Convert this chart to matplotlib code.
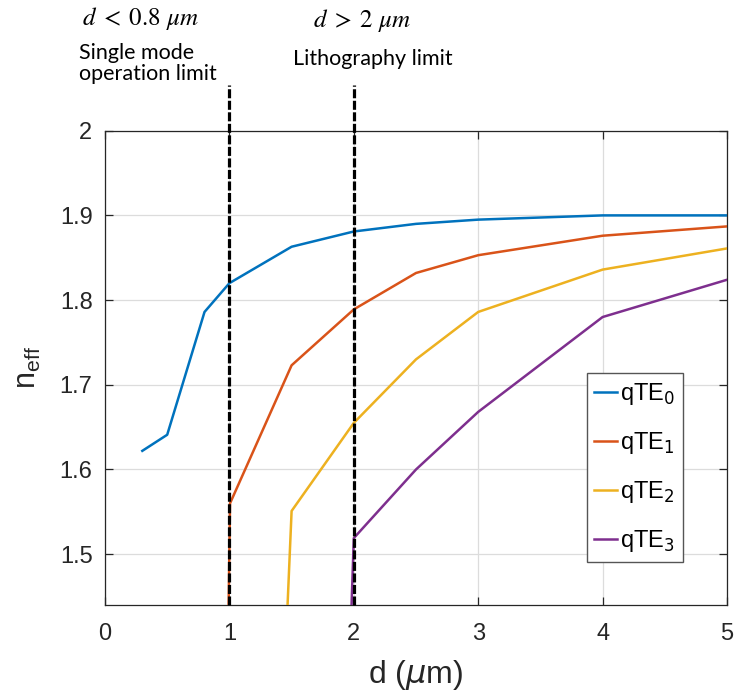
import matplotlib
matplotlib.use("Agg")
import matplotlib.pyplot as plt

plt.rcParams['font.family'] = ['Liberation Sans', 'DejaVu Sans']
plt.rcParams['lines.scale_dashes'] = False

# effective index of the quasi-TE modes vs. waveguide width d (um)
d_te0 = [0.3, 0.5, 0.8, 1.0, 1.5, 2.0, 2.5, 3.0, 4.0, 5.0]
n_te0 = [1.622, 1.641, 1.786, 1.820, 1.863, 1.881, 1.890, 1.895, 1.900, 1.900]

d_te1 = [0.99, 1.005, 1.5, 2.0, 2.5, 3.0, 4.0, 5.0]
n_te1 = [1.40, 1.560, 1.723, 1.789, 1.832, 1.853, 1.876, 1.887]

d_te2 = [1.45, 1.5, 2.0, 2.5, 3.0, 4.0, 5.0]
n_te2 = [1.38, 1.551, 1.655, 1.730, 1.786, 1.836, 1.861]

d_te3 = [1.97, 2.0, 2.5, 3.0, 4.0, 5.0]
n_te3 = [1.387, 1.519, 1.600, 1.668, 1.780, 1.824]

limits = [1.0, 2.0]
labels = ['qTE$_0$', 'qTE$_1$', 'qTE$_2$', 'qTE$_3$']
colors = ['#0072BD', '#D95319', '#EDB120', '#7E2F8E']

fig = plt.figure(figsize=(7.35, 6.94), dpi=100)
ax = fig.add_axes([105/735, 89/694, 622/735, 474.3/694])

series = [(d_te0, n_te0), (d_te1, n_te1), (d_te2, n_te2), (d_te3, n_te3)]
for (xs, ys), lab, c in zip(series, labels, colors):
    ax.plot(xs, ys, color=c, lw=1.8, label=lab, zorder=3)

ymin, ymax = 1.44, 2.0
for xl in limits:
    ax.plot([xl, xl], [ymin, 2.054], color='black', lw=2.3,
            dashes=(6.5, 1.8), clip_on=False, zorder=4)

ax.set_xlim(0, 5)
ax.set_ylim(ymin, ymax)
ax.set_xticks([0, 1, 2, 3, 4, 5])
ax.set_yticks([1.5, 1.6, 1.7, 1.8, 1.9, 2.0])
ax.set_yticklabels(['1.5', '1.6', '1.7', '1.8', '1.9', '2'])
ax.grid(True, color='#dcdcdc', lw=0.9, zorder=0)
ax.tick_params(direction='in', length=6, width=0.9, labelsize=17,
               colors='#262626', top=True, right=True)
ax.tick_params(axis='x', pad=13)
ax.tick_params(axis='y', pad=9)
for s in ax.spines.values():
    s.set_color('#262626')
    s.set_linewidth(0.9)

ax.set_xlabel(r'd ($\mu$m)', fontsize=23, color='#262626', labelpad=9)
ax.set_ylabel(r'$\mathregular{n_{eff}}$', fontsize=22, color='#262626', labelpad=12)

leg = ax.legend(loc='lower right', bbox_to_anchor=(0.929, 0.091), fontsize=17,
                fancybox=False, edgecolor='#555555', framealpha=1,
                handlelength=0.95, handletextpad=0.15, labelspacing=0.98,
                borderpad=0.32, borderaxespad=0)
leg.get_frame().set_linewidth(1.0)

# annotations above the plot
fig.text(140/735, 1 - 19/694, r'$d\; <\; 0.8\ \mu m$', fontsize=18, ha='center',
         va='center', math_fontfamily='stix')
fig.text(79/735, 1 - 80/694, 'Single mode\noperation limit', fontsize=15.5,
         family='Lato', ha='left', va='baseline', linespacing=1.05)
fig.text(362/735, 1 - 21/694, r'$d\; >\; 2\ \mu m$', fontsize=18, ha='center',
         va='center', math_fontfamily='stix')
fig.text(453/735, 1 - 65/694, 'Lithography limit', fontsize=15.5,
         family='Lato', ha='right', va='baseline')

fig.savefig('out.png', dpi=100)
